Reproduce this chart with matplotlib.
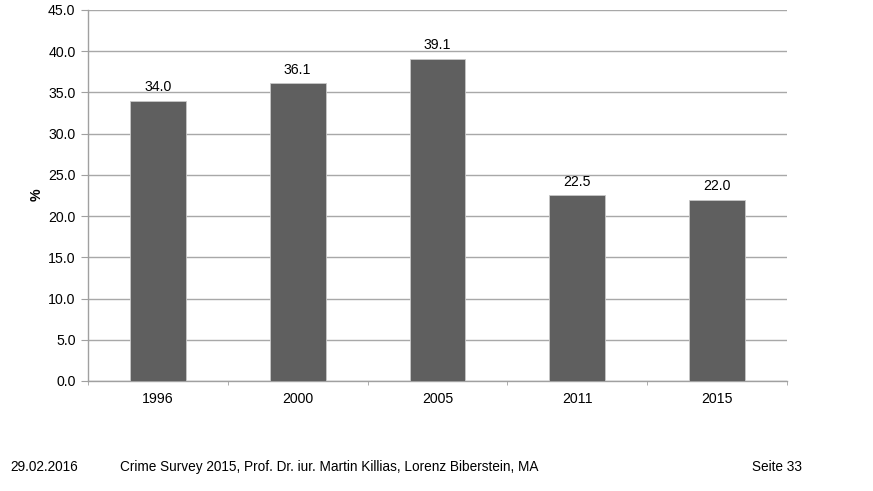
import matplotlib
matplotlib.use("Agg")
import matplotlib.pyplot as plt
from matplotlib.ticker import MultipleLocator, FixedLocator

years = ["1996", "2000", "2005", "2011", "2015"]
values = [34.0, 36.1, 39.1, 22.5, 22.0]
footer_date = "29.02.2016"
footer_text = "Crime Survey 2015, Prof. Dr. iur. Martin Killias, Lorenz Biberstein, MA"
footer_page = "Seite 33"

plt.rcParams['font.family'] = ['Liberation Sans', 'DejaVu Sans']

fig = plt.figure(figsize=(8.73, 4.91), dpi=100)
ax = fig.add_axes([88/873, 1-381/491, (787-88)/873, (381-10)/491])

x = list(range(len(years)))
bars = ax.bar(x, values, width=0.4, color='#5f5f5f', edgecolor='#c8c8c8', linewidth=0.6, zorder=3)
for xi, v in zip(x, values):
    ax.text(xi, v + 0.8, f"{v:.1f}", ha='center', va='bottom', fontsize=10.2, color='black')

ax.set_xlim(-0.5, len(years) - 0.5)
ax.set_ylim(0, 45)
ax.yaxis.set_major_locator(MultipleLocator(5))
ax.set_yticklabels([f"{t:.1f}" for t in ax.get_yticks()])
ax.set_xticks(x)
ax.set_xticklabels(years)
ax.xaxis.set_minor_locator(FixedLocator([i - 0.5 for i in range(len(years) + 1)]))
ax.tick_params(axis='x', which='major', length=0, labelsize=10.2, pad=8)
ax.tick_params(axis='x', which='minor', length=3, color='#a0a0a0', direction='out')
ax.tick_params(axis='y', length=5, color='#a0a0a0', labelsize=10.2, pad=4)

ax.grid(axis='y', color='#a8a8a8', linewidth=1.0, zorder=0)
for s in ['top', 'right']:
    ax.spines[s].set_visible(False)
ax.spines['left'].set_color('#a0a0a0')
ax.spines['bottom'].set_color('#a0a0a0')
ax.spines['left'].set_linewidth(1.0)
ax.spines['bottom'].set_linewidth(1.0)

fig.text(37/873, 1-195/491, "%", rotation=90, ha='center', va='center', fontsize=10.2, fontweight='bold')

fig.text(10/873, 1-467/491, footer_date, ha='left', va='center', fontsize=9.85)
fig.text(120/873, 1-467/491, footer_text, ha='left', va='center', fontsize=9.85)
fig.text(752/873, 1-467/491, footer_page, ha='left', va='center', fontsize=9.85)

fig.savefig("out.png", dpi=100)
